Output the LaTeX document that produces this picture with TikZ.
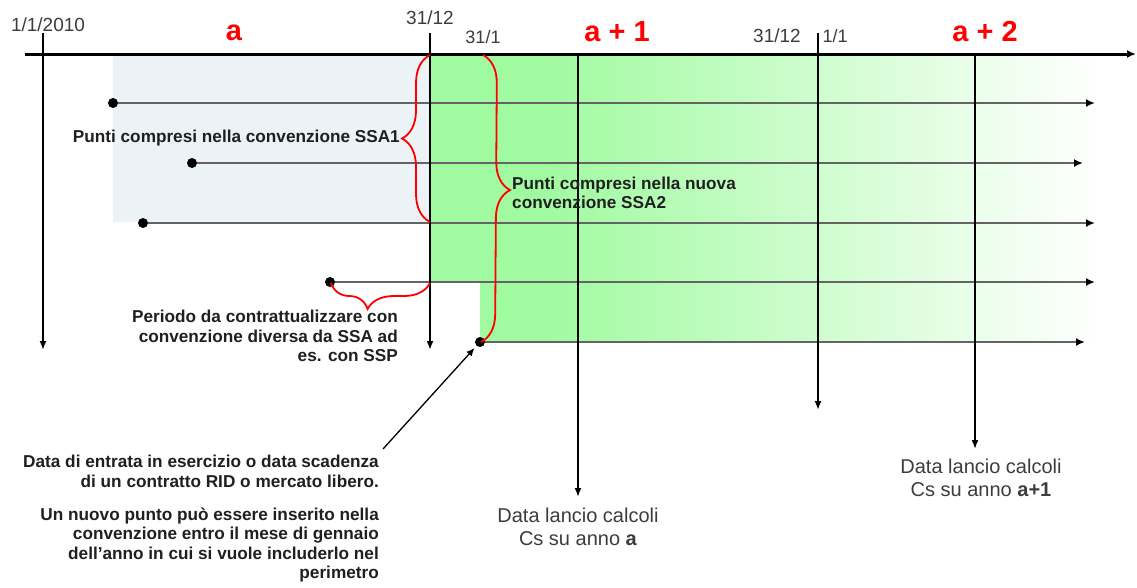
\documentclass[tikz,border=0pt]{standalone}
\usepackage{fontspec}
\setmainfont{Liberation Sans}
\usetikzlibrary{decorations.pathreplacing,arrows.meta,positioning}
\definecolor{ssablue}{RGB}{235,243,246}
\definecolor{ssagreen}{RGB}{160,250,160}
\definecolor{labgray}{RGB}{60,60,60}
\definecolor{linegray}{RGB}{100,100,100}
\begin{document}
\begin{tikzpicture}[x=1pt,y=-1pt,
  timearrow/.style={line width=2.4pt,-{Latex[length=9pt,width=7pt]}},
  pointline/.style={draw=linegray,line width=2.8pt,-{Latex[length=9pt,width=8pt,black]}},
  pointdot/.style={circle,fill=black,inner sep=0pt,minimum size=10pt},
  redbrace/.style args={#1/#2}{draw=red,line width=1.8pt,decorate,decoration={brace,amplitude=#1,aspect=#2}},
  boldtxt/.style={font=\fontsize{17.2}{19.4}\selectfont\bfseries,text=black!88,inner sep=0pt,align=right},
  datetxt/.style={font=\fontsize{19}{22}\selectfont,text=labgray,inner sep=0pt},
  lanciotxt/.style={font=\fontsize{20}{23}\selectfont,text=labgray,inner sep=0pt,align=center},
  yeartxt/.style={font=\fontsize{29}{30}\selectfont\bfseries,text=red,inner sep=0pt}]
\useasboundingbox (0,0) rectangle (1137,587);

%Shape: SSA1 area
\fill[ssablue] (113,56) rectangle (430,222);
%Shape: SSA2 area
\begin{scope}
\clip (430,56) -- (1100,56) -- (1100,342) -- (480,342) -- (480,282) -- (430,282) -- cycle;
\fill[ssagreen] (430,56) rectangle (541,342);
\shade[left color=ssagreen,right color=white] (540,56) rectangle (1100,342);
\end{scope}

%Points and their lines
\node[pointdot] (p1) at (113,103) {};
\node[pointdot] (p2) at (192,163) {};
\node[pointdot] (p3) at (143,223) {};
\node[pointdot] (p4) at (330,282) {};
\node[pointdot] (p5) at (480,342) {};
\coordinate (e1) at (1095,103);
\coordinate (e2) at (1083,163);
\coordinate (e3) at (1095,223);
\coordinate (e4) at (1095,282);
\coordinate (e5) at (1085,342);
\foreach \i in {1,...,5}
  \draw[pointline] (p\i) -- (e\i);

%Straight Lines: dates
\coordinate (t2010) at (43,33);   \coordinate (b2010) at (43,350);
\coordinate (t3112) at (430,33);  \coordinate (b3112) at (430,350);
\coordinate (t11) at (818,33);    \coordinate (b11) at (818,410);
\coordinate (tla) at (578,54);    \coordinate (bla) at (578,497);
\coordinate (tlb) at (975,54);    \coordinate (blb) at (975,449);
\draw[timearrow] (t2010) -- (b2010);
\draw[timearrow] (t3112) -- (b3112);
\draw[timearrow] (t11) -- (b11);
\draw[timearrow,line width=1.7pt] (tla) -- (bla);
\draw[timearrow,line width=1.7pt] (tlb) -- (blb);

%Shape: Axis
\coordinate (axl) at (25,54);
\coordinate (axr) at (1136,54);
\draw[line width=3pt,-{Latex[length=9pt,width=8pt]}] (axl) -- (axr);

%Braces
\coordinate (br1a) at (430,222);  \coordinate (br1b) at (430,55);
\coordinate (br2a) at (483,55);   \coordinate (br2b) at (481,342);
\coordinate (br3a) at (430,283);  \coordinate (br3b) at (331,283);
\draw[redbrace=28pt/0.5] (br1a) -- (br1b);
\draw[redbrace=28pt/0.47] (br2a) -- (br2b);
\draw[redbrace=26pt/0.63] (br3a) -- (br3b);

% Text Node
\node[datetxt] (d2010) at (48,25) {1/1/2010};
\node[datetxt] (d3112a) at (430,18) {31/12};
\node[datetxt,font=\fontsize{18}{20}\selectfont] (d311) at (483,37) {31/1};
\node[datetxt] (d3112b) at (777,36) {31/12};
\node[datetxt,font=\fontsize{18}{20}\selectfont] (d11) at (835,36) {1/1};
\node[yeartxt] (ya) at (234,33) {a};
\node[yeartxt] (ya1) at (617,32) {a + 1};
\node[yeartxt] (ya2) at (985,32) {a + 2};

\node[boldtxt,anchor=east] (ssa1) at (400,138) {Punti compresi nella convenzione SSA1};
\node[boldtxt,anchor=west,align=left] (ssa2) at (512,193) {Punti compresi nella nuova\\convenzione SSA2};
\node[boldtxt,anchor=north east] (periodo) at (398,310) {Periodo da contrattualizzare con\\convenzione diversa da SSA ad\\es. con SSP};

\node[boldtxt,anchor=north east] (nota1) at (379,455) {Data di entrata in esercizio o data scadenza\\di un contratto RID o mercato libero.};
\node[boldtxt,anchor=north east] (nota2) at ([yshift=-20pt]nota1.south east) {Un nuovo punto può essere inserito nella\\convenzione entro il mese di gennaio\\dell'anno in cui si vuole includerlo nel\\perimetro};
\coordinate (notatail) at (383,449);
\draw[line width=1.3pt,-{Latex[length=8pt,width=7pt]},shorten >=3pt] (notatail) -- (p5);

\node[lanciotxt,below=11pt of bla] (lancioa) {Data lancio calcoli\\Cs su anno \textbf{a}};
\node[lanciotxt,below=10pt of blb,xshift=6pt] (lanciob) {Data lancio calcoli\\Cs su anno \textbf{a+1}};

\end{tikzpicture}
\end{document}
